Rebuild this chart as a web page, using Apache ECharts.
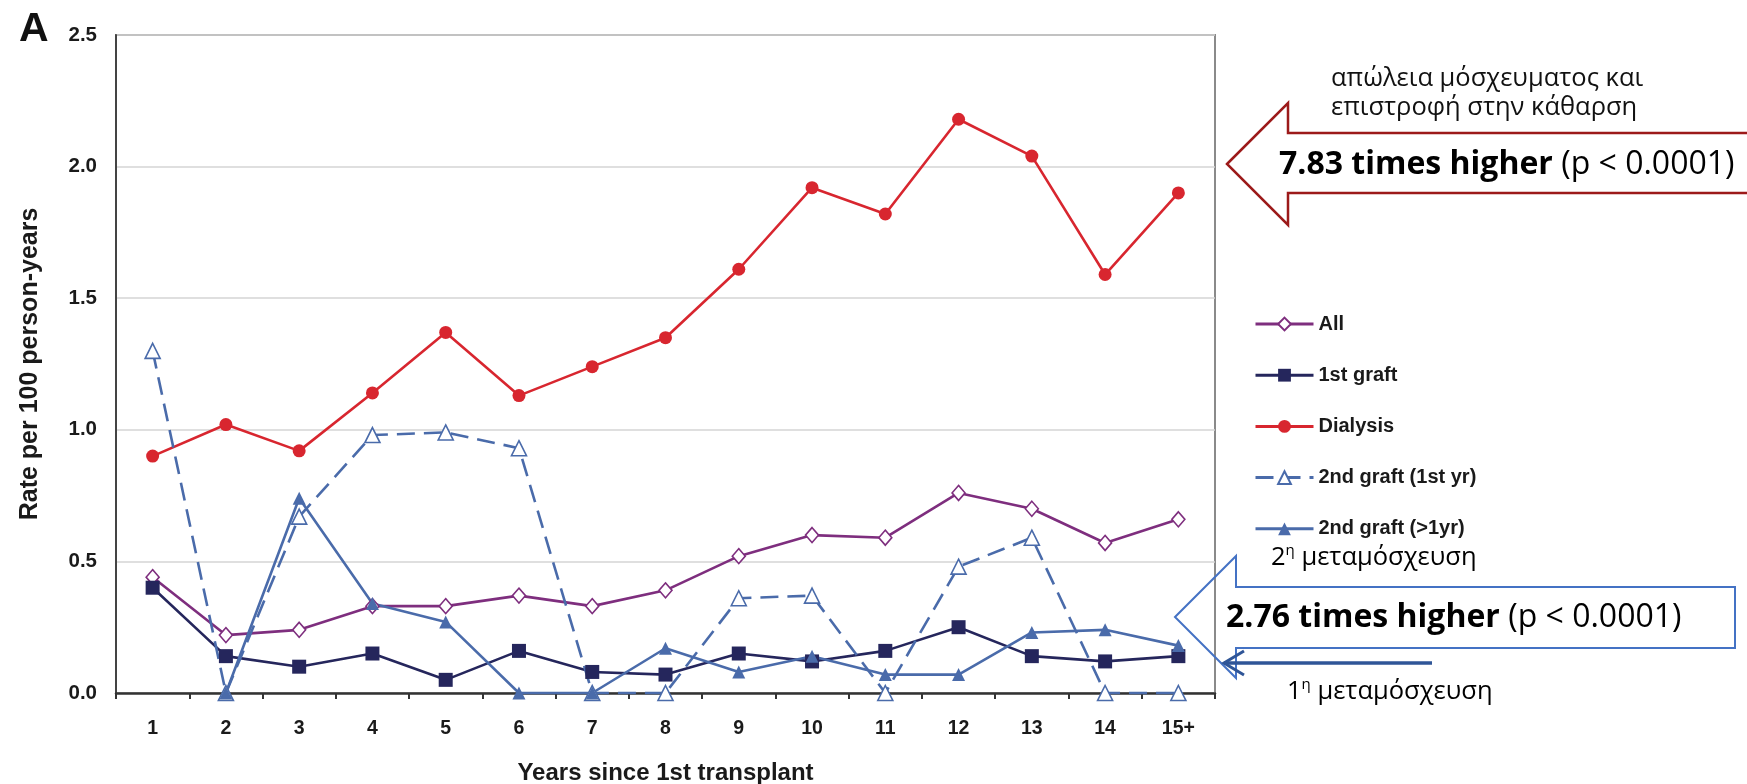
<!DOCTYPE html>
<html><head><meta charset="utf-8">
<script src="https://cdn.jsdelivr.net/npm/echarts@6/dist/echarts.min.js"></script>
<style>html,body{margin:0;padding:0;background:#fff;}#c{width:1747px;height:784px;}</style>
</head><body><div id="c"></div>
<script>
const categories = ['1','2','3','4','5','6','7','8','9','10','11','12','13','14','15+'];
const allData      = [0.44,0.22,0.24,0.33,0.33,0.37,0.33,0.39,0.52,0.60,0.59,0.76,0.70,0.57,0.66];
const firstGraft   = [0.40,0.14,0.10,0.15,0.05,0.16,0.08,0.07,0.15,0.12,0.16,0.25,0.14,0.12,0.14];
const dialysis     = [0.90,1.02,0.92,1.14,1.37,1.13,1.24,1.35,1.61,1.92,1.82,2.18,2.04,1.59,1.90];
const second1stYr  = [1.30,0,0.67,0.98,0.99,0.93,0,0,0.36,0.37,0,0.48,0.59,0,0];
const secondGt1Yr  = [null,0,0.74,0.34,0.27,0,0,0.17,0.08,0.14,0.07,0.07,0.23,0.24,0.18];
const yTicks = {min:0, max:2.5, interval:0.5};

const AX = "'Liberation Sans', Arial, Helvetica, sans-serif";
const AN = "'Open Sans', 'Noto Sans', sans-serif";
const chart = echarts.init(document.getElementById('c'), null, {renderer:'canvas'});

function line(name, data, color, symbol, size, hollow, dashed) {
  return {
    name, type:'line', data, symbol, symbolSize:size, clip:false, connectNulls:false,
    lineStyle:{color, width:2.6, type: dashed ? [18,9] : 'solid'},
    itemStyle: hollow ? {color:'#fff', borderColor:color, borderWidth:1.6} : {color, borderColor:color, borderWidth:0},
    emphasis:{disabled:true}
  };
}

chart.setOption({
  animation:false,
  backgroundColor:'#fff',
  grid:{left:116, right:532, top:35, bottom:91, outerBoundsMode:'none', containLabel:false,
        show:true, borderColor:'#8a8a8a', borderWidth:2, backgroundColor:'transparent'},
  legend:{
    orient:'vertical', left:1249, top:309, itemWidth:58, itemHeight:16, itemGap:31.2,
    lineStyle:{width:3},
    textStyle:{fontFamily:AX, fontWeight:'bold', fontSize:20, color:'#1a1a1a'},
    data:['All','1st graft','Dialysis','2nd graft (1st yr)','2nd graft (>1yr)']
  },
  xAxis:{
    type:'category', data:categories, boundaryGap:true,
    name:'Years since 1st transplant', nameLocation:'middle', nameGap:68,
    nameTextStyle:{fontFamily:AX, fontWeight:'bold', fontSize:24, color:'#1a1a1a'},
    axisLine:{lineStyle:{color:'#333', width:2.5}},
    axisTick:{show:true, length:6, lineStyle:{color:'#333', width:2}},
    axisLabel:{margin:26, fontFamily:AX, fontWeight:'bold', fontSize:19.5, color:'#1a1a1a'},
    splitLine:{show:false}
  },
  yAxis:{
    type:'value', min:yTicks.min, max:yTicks.max, interval:yTicks.interval,
    name:'Rate per 100 person-years', nameLocation:'middle', nameRotate:90, nameGap:73,
    nameTextStyle:{fontFamily:AX, fontWeight:'bold', fontSize:25, color:'#1a1a1a'},
    axisLine:{show:true, lineStyle:{color:'#444', width:2}},
    axisTick:{show:false},
    axisLabel:{margin:19, fontFamily:AX, fontWeight:'bold', fontSize:20.5, color:'#1a1a1a', formatter:v=>v.toFixed(1)},
    splitLine:{lineStyle:{color:'#d4d4d4', width:1.5}}
  },
  series:[
    line('All', allData, '#7E2E7E', 'diamond', [13,15], true, false),
    line('1st graft', firstGraft, '#25265C', 'rect', 14, false, false),
    line('Dialysis', dialysis, '#D8262F', 'circle', 13, false, false),
    line('2nd graft (1st yr)', second1stYr, '#4A6BAA', 'triangle', 15, true, true),
    line('2nd graft (>1yr)', secondGt1Yr, '#4A6BAA', 'triangle', 13, false, false)
  ],
  graphic:[
    {type:'text', left:19, top:9, style:{text:'A', font:"bold 41px "+AX, fill:'#111'}},
    {type:'polygon', z:100, shape:{points:[[1227,164],[1288,103],[1288,133],[1760,133],[1760,193],[1288,193],[1288,225]]},
      style:{fill:'#fff', stroke:'#9C1A1A', lineWidth:2.5}},
    {type:'polygon', z:100, shape:{points:[[1175,617],[1236,556],[1236,587],[1735,587],[1735,648],[1236,648],[1236,678]]},
      style:{fill:'none', stroke:'#4472C4', lineWidth:2}},
    {type:'polyline', z:101, shape:{points:[[1432,663],[1224,663]]}, style:{stroke:'#2F5597', lineWidth:3.5, fill:'none'}},
    {type:'polyline', z:101, shape:{points:[[1244,651],[1224,663],[1244,675]]}, style:{stroke:'#2F5597', lineWidth:3, fill:'none'}},
    {type:'text', z:102, x:1279, y:165, style:{
      text:'{b|7.83 times higher}{r| (p < 0.0001)}', verticalAlign:'middle', align:'left',
      rich:{b:{fontFamily:AN, fontWeight:'bold', fontSize:32, color:'#000'}, r:{fontFamily:AN, fontSize:32, color:'#000'}}}},
    {type:'text', z:102, x:1226, y:618, style:{
      text:'{b|2.76 times higher}{r| (p < 0.0001)}', verticalAlign:'middle', align:'left',
      rich:{b:{fontFamily:AN, fontWeight:'bold', fontSize:32, color:'#000'}, r:{fontFamily:AN, fontSize:32, color:'#000'}}}},
    {type:'text', z:102, x:1331, y:79, style:{text:'απώλεια μόσχευματος και', font:"25.5px "+AN, fill:'#111', verticalAlign:'middle'}},
    {type:'text', z:102, x:1331, y:108, style:{text:'επιστροφή στην κάθαρση', font:"25.5px "+AN, fill:'#111', verticalAlign:'middle'}},
    {type:'text', z:102, x:1271, y:558, style:{
      text:'{n|2}{s|η}{n| μεταμόσχευση}', verticalAlign:'middle', align:'left',
      rich:{n:{fontFamily:AN, fontSize:25.5, color:'#111', lineHeight:30}, s:{fontFamily:AN, fontSize:15, color:'#111', verticalAlign:'top', lineHeight:15}}}},
    {type:'text', z:102, x:1287, y:692, style:{
      text:'{n|1}{s|η}{n| μεταμόσχευση}', verticalAlign:'middle', align:'left',
      rich:{n:{fontFamily:AN, fontSize:25.5, color:'#111', lineHeight:30}, s:{fontFamily:AN, fontSize:15, color:'#111', verticalAlign:'top', lineHeight:15}}}}
  ]
});
</script></body></html>
